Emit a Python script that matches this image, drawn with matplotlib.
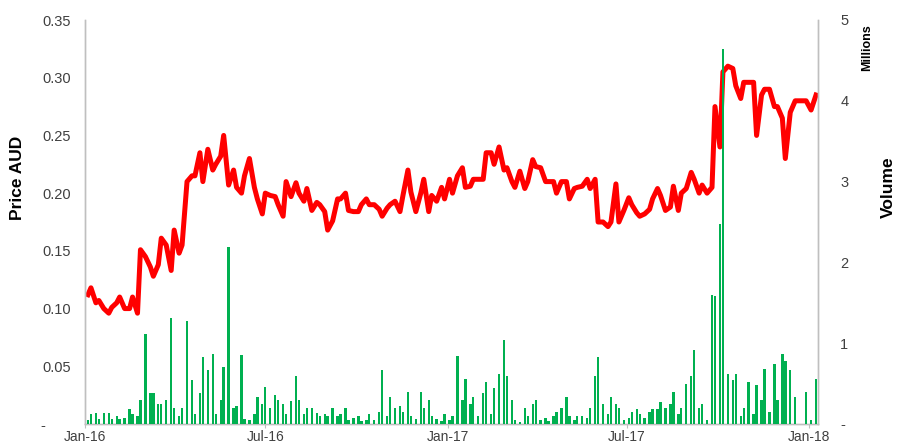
import pandas as pd
import numpy as np
import matplotlib
matplotlib.use('Agg')
import matplotlib.pyplot as plt
import matplotlib.dates as mdates
from matplotlib.ticker import FuncFormatter, MultipleLocator

# %% data (one value every 3 trading days)
start = '2016-01-04'

price = [0.112, 0.118, 0.105, 0.107, 0.100, 0.096, 0.101, 0.105, 0.110, 0.100,
         0.100, 0.110, 0.096, 0.151, 0.145, 0.136, 0.128, 0.138, 0.161, 0.155,
         0.133, 0.168, 0.148, 0.155, 0.210, 0.215, 0.215, 0.235, 0.210, 0.238,
         0.220, 0.225, 0.232, 0.250, 0.207, 0.220, 0.205, 0.200, 0.215, 0.230,
         0.205, 0.195, 0.182, 0.200, 0.198, 0.197, 0.190, 0.180, 0.210, 0.197,
         0.209, 0.200, 0.193, 0.204, 0.185, 0.192, 0.190, 0.184, 0.168, 0.176,
         0.195, 0.195, 0.200, 0.185, 0.184, 0.184, 0.190, 0.195, 0.190, 0.190,
         0.186, 0.180, 0.187, 0.190, 0.193, 0.184, 0.198, 0.220, 0.201, 0.184,
         0.200, 0.212, 0.184, 0.198, 0.193, 0.205, 0.195, 0.212, 0.200, 0.215,
         0.222, 0.205, 0.206, 0.212, 0.212, 0.212, 0.235, 0.235, 0.225, 0.240,
         0.220, 0.222, 0.210, 0.205, 0.219, 0.204, 0.210, 0.229, 0.223, 0.222,
         0.210, 0.210, 0.210, 0.200, 0.210, 0.210, 0.195, 0.204, 0.205, 0.206,
         0.212, 0.204, 0.212, 0.175, 0.175, 0.171, 0.175, 0.208, 0.175, 0.185,
         0.196, 0.190, 0.183, 0.180, 0.182, 0.186, 0.195, 0.204, 0.198, 0.185,
         0.188, 0.206, 0.185, 0.200, 0.204, 0.218, 0.212, 0.200, 0.207, 0.200,
         0.205, 0.275, 0.240, 0.305, 0.310, 0.308, 0.293, 0.282, 0.296, 0.296,
         0.296, 0.250, 0.285, 0.290, 0.290, 0.275, 0.275, 0.265, 0.230, 0.270,
         0.280, 0.280, 0.280, 0.280, 0.272, 0.285]

# volume in millions
volume = [0.05, 0.12, 0.14, 0.06, 0.13, 0.14, 0.06, 0.10, 0.06, 0.08,
          0.19, 0.12, 0.10, 0.30, 1.12, 0.38, 0.38, 0.25, 0.25, 0.30,
          1.31, 0.20, 0.10, 0.20, 1.27, 0.55, 0.12, 0.38, 0.83, 0.67,
          0.87, 0.12, 0.30, 0.70, 2.19, 0.20, 0.22, 0.85, 0.06, 0.05,
          0.12, 0.34, 0.25, 0.46, 0.20, 0.36, 0.30, 0.25, 0.12, 0.28,
          0.60, 0.30, 0.12, 0.20, 0.20, 0.14, 0.10, 0.12, 0.10, 0.20,
          0.10, 0.12, 0.20, 0.05, 0.07, 0.10, 0.04, 0.05, 0.12, 0.05,
          0.15, 0.67, 0.10, 0.34, 0.20, 0.22, 0.15, 0.40, 0.10, 0.06,
          0.40, 0.20, 0.30, 0.10, 0.06, 0.04, 0.12, 0.05, 0.10, 0.84,
          0.30, 0.56, 0.25, 0.33, 0.10, 0.38, 0.52, 0.12, 0.45, 0.62,
          1.04, 0.60, 0.30, 0.05, 0.02, 0.20, 0.10, 0.25, 0.30, 0.05,
          0.08, 0.04, 0.10, 0.15, 0.20, 0.34, 0.10, 0.05, 0.10, 0.10,
          0.08, 0.20, 0.60, 0.83, 0.25, 0.12, 0.33, 0.25, 0.20, 0.05,
          0.08, 0.15, 0.18, 0.12, 0.08, 0.15, 0.18, 0.18, 0.27, 0.20,
          0.25, 0.40, 0.12, 0.20, 0.49, 0.60, 0.92, 0.20, 0.25, 0.05,
          1.60, 1.58, 2.48, 4.64, 0.62, 0.55, 0.62, 0.10, 0.20, 0.52,
          0.12, 0.48, 0.30, 0.68, 0.15, 0.74, 0.30, 0.87, 0.78, 0.67,
          0.33, 0.00, 0.00, 0.39, 0.05, 0.56]

dates = pd.bdate_range(start=start, periods=len(price), freq='3B')

# %% plot
plt.rcParams['font.family'] = ['Liberation Sans', 'DejaVu Sans']
grey = '#404040'
spine = '#bfbfbf'

fig = plt.figure(figsize=(8.99, 4.47), dpi=100)
ax = fig.add_axes([85/899, 23/447, 733/899, 404/447])
ax2 = ax.twinx()

ax.plot(dates, price, color='#ff0000', lw=3.6, solid_joinstyle='round', zorder=2)
ax2.bar(dates, volume, width=2.4, color='#00b050', linewidth=0, zorder=3)

ax.set_xlim(pd.Timestamp('2016-01-01'), pd.Timestamp('2018-01-10'))
ax.set_ylim(0, 0.35)
ax2.set_ylim(0, 5)

# accounting style: zero shown as a dash
ax.yaxis.set_major_locator(MultipleLocator(0.05))
ax.yaxis.set_major_formatter(FuncFormatter(lambda v, p: '-      ' if abs(v) < 1e-9 else f'{v:.2f}'))
ax2.yaxis.set_major_locator(MultipleLocator(1))
ax2.yaxis.set_major_formatter(FuncFormatter(lambda v, p: '-' if abs(v) < 1e-9 else f'{int(round(v))}'))

ax.xaxis.set_major_locator(mdates.MonthLocator(bymonth=[1, 7]))
ax.xaxis.set_major_formatter(mdates.DateFormatter('%b-%y'))

for a in (ax, ax2):
    a.spines['top'].set_visible(False)
    for s in ('left', 'right', 'bottom'):
        a.spines[s].set_color(spine)
        a.spines[s].set_linewidth(1.0)
    a.set_facecolor('none')

ax.tick_params(axis='y', length=0, pad=10, labelsize=10.5, labelcolor=grey)
ax2.tick_params(axis='y', length=0, pad=16, labelsize=10.5, labelcolor=grey)
ax.tick_params(axis='x', length=3, color=spine, pad=1, labelsize=10, labelcolor=grey)

fig.text(18/899, 1 - 178/447, 'Price AUD', rotation=90, ha='center', va='center',
         fontsize=12.5, fontweight='bold', color='#000000')
fig.text(888/899, 1 - 187/447, 'Volume', rotation=90, ha='center', va='center',
         fontsize=12.5, fontweight='bold', color='#000000')
fig.text(867/899, 1 - 48/447, 'Millions', rotation=90, ha='center', va='center',
         fontsize=9, fontweight='bold', color='#000000')

fig.savefig('out.png', dpi=100)
